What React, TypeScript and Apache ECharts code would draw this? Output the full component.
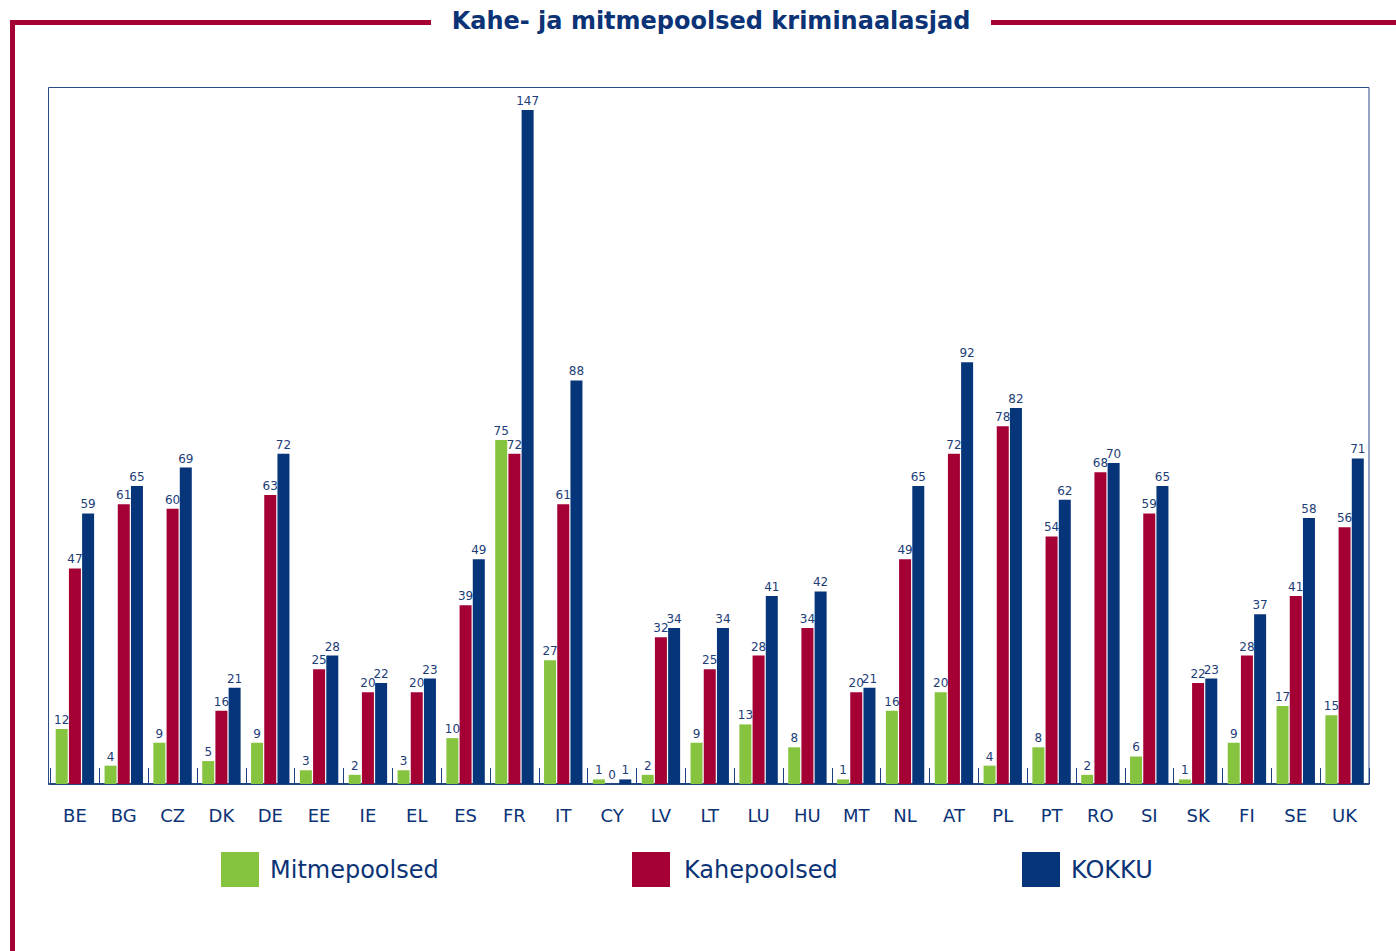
import React, { useEffect, useRef } from "react";
import * as echarts from "echarts";

const categories = ["BE","BG","CZ","DK","DE","EE","IE","EL","ES","FR","IT","CY","LV","LT","LU","HU","MT","NL","AT","PL","PT","RO","SI","SK","FI","SE","UK"];
const mitmepoolsed = [12,4,9,5,9,3,2,3,10,75,27,1,2,9,13,8,1,16,20,4,8,2,6,1,9,17,15];
const kahepoolsed = [47,61,60,16,63,25,20,20,39,72,61,0,32,25,28,34,20,49,72,78,54,68,59,22,28,41,56];
const kokku = [59,65,69,21,72,28,22,23,49,147,88,1,34,34,41,42,21,65,92,82,62,70,65,23,37,58,71];

const seriesNames = ["Mitmepoolsed", "Kahepoolsed", "KOKKU"];
const colors = ["#86c440", "#a50034", "#07357a"];
const titleText = "Kahe- ja mitmepoolsed kriminaalasjad";

const FONT = "'DejaVu Sans', Verdana, sans-serif";
const NAVY = "#0b3376";

export default function App() {
  const ref = useRef<HTMLDivElement>(null);
  useEffect(() => {
    if (!ref.current) return;
    const chart = echarts.init(ref.current, null, { renderer: "svg" });
    const dataSets = [mitmepoolsed, kahepoolsed, kokku];
    const legendLefts = [221, 632, 1022];
    const legendTextPad = [6, 9, 6];
    chart.setOption({
      animation: false,
      textStyle: { fontFamily: FONT },
      title: {
        text: titleText,
        left: 706,
        textAlign: "center",
        top: 4,
        textStyle: { fontFamily: FONT, fontSize: 24, fontWeight: "bold", color: NAVY },
      },
      grid: {
        left: 50.5, right: 27, top: 87, bottom: 167,
        show: false,
      },
      legend: seriesNames.map((n, i) => ({
        data: [n],
        left: legendLefts[i],
        top: 852,
        padding: 0,
        itemWidth: 38,
        itemHeight: 35,
        itemGap: 10,
        icon: "rect",
        textStyle: { fontFamily: FONT, fontSize: 24, color: NAVY, padding: [5, 0, 0, legendTextPad[i]] },
        selectedMode: false,
      })),
      xAxis: {
        type: "category",
        data: categories,
        axisLine: { show: true, lineStyle: { color: "#1c3f7e", width: 1.5 } },
        axisTick: { show: true, inside: true, length: 16, lineStyle: { color: "#1c3f7e" } },
        axisLabel: { fontFamily: FONT, fontSize: 18, color: NAVY, margin: 22 },
      },
      yAxis: {
        type: "value",
        min: 0,
        max: 152,
        show: false,
        splitLine: { show: false },
      },
      graphic: [
        { type: "rect", shape: { x: 48.5, y: 87.5, width: 1320.5, height: 696.5 }, style: { fill: "none", stroke: "#2a4d88", lineWidth: 1 }, silent: true },
        { type: "line", shape: { x1: 48, y1: 784, x2: 1369, y2: 784 }, style: { stroke: "#1c3f7e", lineWidth: 1.5 }, silent: true },
        { type: "line", shape: { x1: 10, y1: 22.5, x2: 431, y2: 22.5 }, style: { stroke: "#a50034", lineWidth: 5 } },
        { type: "line", shape: { x1: 991, y1: 22.5, x2: 1396, y2: 22.5 }, style: { stroke: "#a50034", lineWidth: 5 } },
        { type: "line", shape: { x1: 12.5, y1: 20, x2: 12.5, y2: 951 }, style: { stroke: "#a50034", lineWidth: 5 } },
      ],
      series: seriesNames.map((n, i) => ({
        name: n,
        type: "bar",
        data: dataSets[i],
        barWidth: 12,
        barGap: "10%",
        itemStyle: { color: colors[i] },
        label: {
          show: true,
          position: "top",
          distance: 3,
          fontFamily: FONT,
          fontSize: 12,
          color: "#1d3d78",
        },
      })),
    });
    return () => chart.dispose();
  }, []);
  return (
    <div
      ref={ref}
      style={{ position: "absolute", left: 0, top: 0, width: 1396, height: 951, background: "#fff" }}
    />
  );
}
